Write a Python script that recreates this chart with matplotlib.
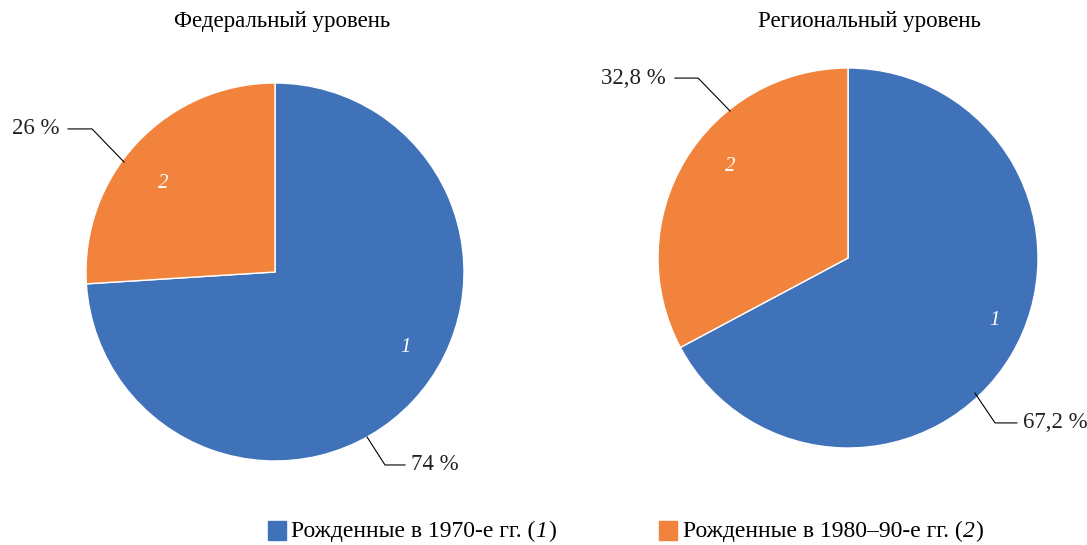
import matplotlib.pyplot as plt
from matplotlib.patches import Rectangle

plt.rcParams['font.family'] = ['Liberation Serif', 'DejaVu Serif']

# data
titles = ["Федеральный уровень", "Региональный уровень"]
federal = [74, 26]
regional = [67.2, 32.8]
federal_labels = ["74 %", "26 %"]
regional_labels = ["67,2 %", "32,8 %"]
legend_labels = ["Рожденные в 1970-е гг. (", "Рожденные в 1980–90-е гг. ("]
legend_nums = ["1", "2"]
colors = ["#3F72B9", "#F2833C"]

W, H = 1087, 545
fig = plt.figure(figsize=(W / 100, H / 100), dpi=100)


def px_axes(cx, cy, r):
    return fig.add_axes([(cx - r) / W, 1 - (cy + r) / H, 2 * r / W, 2 * r / H])


def draw_pie(ax, vals, labels, inner_pos, leaders):
    ax.pie(vals, colors=colors, startangle=90, counterclock=False,
           wedgeprops=dict(edgecolor="white", linewidth=1), radius=1)
    ax.set_xlim(-1, 1)
    ax.set_ylim(-1, 1)
    ax.set_aspect("equal")
    ax.axis("off")
    for num, (x, y) in zip(["1", "2"], inner_pos):
        ax.text(x, y, num, color="white", fontsize=15, style="italic",
                ha="center", va="center")
    for lab, (pts, tx, ha) in zip(labels, leaders):
        xs, ys = zip(*pts)
        ax.plot(xs, ys, color="black", lw=0.8, clip_on=False)
        ax.text(tx, pts[-1][1] if ha == "left" else pts[0][1], lab,
                fontsize=16.5, ha=ha, va="center", color="#222222")


ax1 = px_axes(275, 272, 189)
draw_pie(ax1, federal, federal_labels,
         [(0.69, -0.40), (-0.59, 0.47)],
         [([(0.487, -0.873), (0.582, -1.021), (0.688, -1.021)], 0.72, "left"),
          ([(-1.095, 0.757), (-0.968, 0.757), (-0.799, 0.582)], -1.14, "right")])

ax2 = px_axes(848, 258, 190)
draw_pie(ax2, regional, regional_labels,
         [(0.77, -0.33), (-0.62, 0.48)],
         [([(0.668, -0.711), (0.774, -0.868), (0.889, -0.868)], 0.92, "left"),
          ([(-0.911, 0.947), (-0.789, 0.947), (-0.621, 0.774)], -0.96, "right")])

fig.text(282 / W, 1 - 22 / H, titles[0], fontsize=16.5, ha="center", va="center")
fig.text(869 / W, 1 - 22 / H, titles[1], fontsize=16.5, ha="center", va="center")

# legend
renderer = fig.canvas.get_renderer()
for (sx, tx), lab, num, c in zip([(268, 291), (659, 683)], legend_labels,
                                 legend_nums, colors):
    fig.patches.append(Rectangle((sx / W, 1 - 540 / H), 18 / W, 19 / H,
                                 transform=fig.transFigure, color=c))
    y = 1 - 537 / H
    t = fig.text(tx / W, y, lab, fontsize=17, ha="left", va="baseline")
    x = t.get_window_extent(renderer).x1
    t = fig.text(x / W, y, num, fontsize=17, style="italic",
                 ha="left", va="baseline")
    x = t.get_window_extent(renderer).x1 + 1
    fig.text(x / W, y, ")", fontsize=17, ha="left", va="baseline")

fig.savefig("out.png", dpi=100)
